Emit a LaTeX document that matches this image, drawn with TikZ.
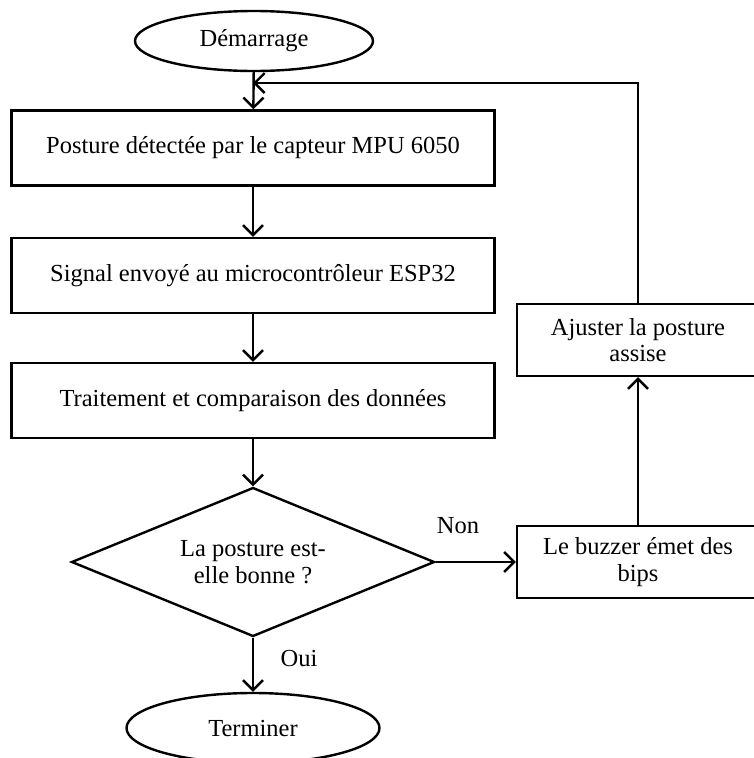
\documentclass[tikz,border=0pt]{standalone}
\usepackage{fontspec}
\setmainfont{Liberation Serif}
\usetikzlibrary{shapes.geometric,arrows.meta}
\newlength{\du}
\setlength{\du}{1pt}

\tikzset{
  flowline/.style={line width=2.4\du, -{Straight Barb[length=10pt,width=20pt]}},
  stepbox/.style={draw, rectangle, line width=2.4\du, inner sep=0pt,
    minimum width=483\du, minimum height=75\du, align=center,
    font=\fontsize{24.5}{26.5}\selectfont},
  termbox/.style={draw, ellipse, line width=2.4\du, inner sep=0pt,
    align=center, font=\fontsize{24.5}{26.5}\selectfont},
  testbox/.style={draw, diamond, line width=2.4\du, inner sep=0pt, aspect=2.4,
    minimum width=363\du, minimum height=149\du, align=center,
    font=\fontsize{24.5}{26.5}\selectfont},
  answer/.style={font=\fontsize{24.5}{26.5}\selectfont}
}

\begin{document}
\begin{tikzpicture}[x=1\du,y=-1\du]
\useasboundingbox (0,0) rectangle (753,758);
% main column
\node[termbox, minimum width=238\du, minimum height=60\du] (start) at (254,41) {Démarrage};
\node[stepbox] (capteur) at (253,148) {Posture détectée par le capteur MPU 6050};
\node[stepbox] (signal) at (253,275.5) {Signal envoyé au microcontrôleur ESP32};
\node[stepbox] (traitement) at (253,400.5) {Traitement et comparaison des données};
\node[testbox] (test) at (253,562) {La posture est-\\elle bonne ?};
\node[termbox, minimum width=253\du, minimum height=70\du] (fin) at (253,728) {Terminer};
% right column
\node[stepbox, minimum width=242\du, minimum height=72\du] (buzzer) at (638,562) {Le buzzer émet des\\bips};
\node[stepbox, minimum width=242\du, minimum height=72\du] (ajuster) at (638,340) {Ajuster la posture\\assise};
\coordinate (retour) at (253,83);
% connectors
\draw[flowline] (start) -- (capteur);
\draw[flowline] (capteur) -- (signal);
\draw[flowline] (signal) -- (traitement);
\draw[flowline] (traitement) -- (test);
\draw[flowline] (test) -- (fin);
\draw[flowline] (test.east) -- (buzzer.west);
\draw[flowline] (buzzer) -- (ajuster);
\draw[flowline] (ajuster.north) |- (retour);
% labels
\node[answer] (non) at (458,526) {Non};
\node[answer] (oui) at (299,658) {Oui};
\end{tikzpicture}
\end{document}
